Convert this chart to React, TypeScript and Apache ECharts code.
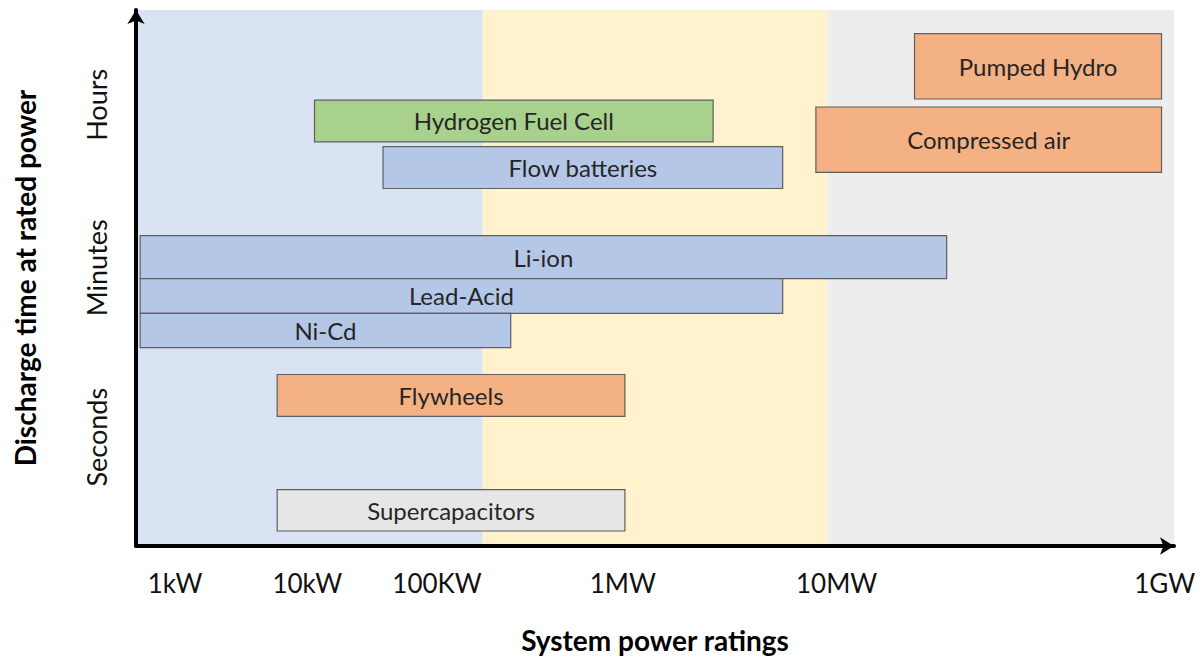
import React, { useEffect, useRef } from "react";
import * as echarts from "echarts";

// Storage technologies (bars)
const techNames = [
  "Pumped Hydro",
  "Compressed air",
  "Hydrogen Fuel Cell",
  "Flow batteries",
  "Li-ion",
  "Lead-Acid",
  "Ni-Cd",
  "Flywheels",
  "Supercapacitors",
];
// Power rating extent, in position units along the (non-uniform) power axis, 0..100
const powerStart = [75.0, 65.5, 17.2, 23.8, 0.4, 0.4, 0.4, 13.6, 13.6];
const powerEnd = [98.8, 98.8, 55.6, 62.3, 78.1, 62.3, 36.1, 47.1, 47.1];
// Discharge time extent, in position units along the time axis, 0..100
const timeLow = [83.4, 69.7, 75.4, 66.7, 49.9, 43.4, 37.0, 24.2, 2.8];
const timeHigh = [95.6, 81.9, 83.2, 74.5, 57.9, 49.9, 43.4, 32.0, 10.5];
const techKind = [
  "mechanical",
  "mechanical",
  "hydrogen",
  "battery",
  "battery",
  "battery",
  "battery",
  "mechanical",
  "capacitor",
];

// Background bands along the power axis
const bandStart = [0, 33.4, 66.6];
const bandEnd = [33.4, 66.6, 100];

// Tick labels
const powerTickPos = [3.76, 16.5, 29.0, 46.9, 67.5, 99.1];
const powerTickLabels = ["1kW", "10kW", "100KW", "1MW", "10MW", "1GW"];
const timeTickPos = [20.3, 51.9, 82.3];
const timeTickLabels = ["Seconds", "Minutes", "Hours"];

const kindColors: Record<string, string> = {
  mechanical: "#F4B183",
  hydrogen: "#A9D18E",
  battery: "#B4C7E7",
  capacitor: "#E7E6E6",
};
const bandColors = ["#DAE3F3", "#FFF2CC", "#EDEDED"];

const FONT = "Lato, 'Open Sans', sans-serif";

export default function App() {
  const ref = useRef<HTMLDivElement>(null);

  useEffect(() => {
    if (!ref.current) return;
    const chart = echarts.init(ref.current, null, { renderer: "svg" });

    const barData = techNames.map((n, i) => [powerStart[i], powerEnd[i], timeLow[i], timeHigh[i]]);
    const bandData = bandStart.map((s, i) => [s, bandEnd[i], 0, 100]);

    const labelFor = (positions: number[], labels: string[]) => (v: number) => {
      const i = positions.findIndex((p) => Math.abs(p - v) < 0.001);
      return i >= 0 ? labels[i] : "";
    };

    chart.setOption({
      animation: false,
      backgroundColor: "#ffffff",
      textStyle: { fontFamily: FONT },
      grid: { left: 136, top: 10, width: 1038, height: 541, containLabel: false },
      xAxis: {
        type: "value",
        min: 0,
        max: 100,
        z: 10,
        splitLine: { show: false },
        axisTick: { show: false },
        axisLine: {
          show: true,
          onZero: false,
          symbol: ["none", "arrow"],
          symbolSize: [13, 14],
          lineStyle: { color: "#000", width: 4 },
        },
        axisLabel: {
          customValues: powerTickPos,
          formatter: labelFor(powerTickPos, powerTickLabels),
          fontSize: 26,
          fontFamily: FONT,
          color: "#111",
          margin: 24,
        },
        name: "System power ratings",
        nameLocation: "middle",
        nameGap: 80,
        nameTextStyle: { fontSize: 28, fontWeight: "bold", color: "#000", fontFamily: FONT },
      },
      yAxis: {
        type: "value",
        min: 0,
        max: 100,
        z: 10,
        splitLine: { show: false },
        axisTick: { show: false },
        axisLine: {
          show: true,
          onZero: false,
          symbol: ["none", "arrow"],
          symbolSize: [13, 14],
          lineStyle: { color: "#000", width: 4 },
        },
        axisLabel: {
          customValues: timeTickPos,
          formatter: labelFor(timeTickPos, timeTickLabels),
          rotate: 90,
          fontSize: 27,
          fontFamily: FONT,
          color: "#111",
          margin: 26,
        },
        name: "Discharge time at rated power",
        nameLocation: "middle",
        nameGap: 97,
        nameTextStyle: { fontSize: 28, fontWeight: "bold", color: "#000", fontFamily: FONT },
      },
      series: [
        {
          type: "custom",
          name: "bands",
          z: 1,
          silent: true,
          data: bandData,
          renderItem: (params: any, api: any) => {
            const p0 = api.coord([api.value(0), api.value(3)]);
            const p1 = api.coord([api.value(1), api.value(2)]);
            return {
              type: "rect",
              shape: { x: p0[0], y: p0[1], width: p1[0] - p0[0], height: p1[1] - p0[1] },
              style: { fill: bandColors[params.dataIndex] },
            };
          },
        },
        {
          type: "custom",
          name: "technologies",
          z: 3,
          data: barData,
          renderItem: (params: any, api: any) => {
            const i = params.dataIndex;
            const p0 = api.coord([api.value(0), api.value(3)]);
            const p1 = api.coord([api.value(1), api.value(2)]);
            return {
              type: "group",
              children: [
                {
                  type: "rect",
                  shape: { x: p0[0], y: p0[1], width: p1[0] - p0[0], height: p1[1] - p0[1] },
                  style: { fill: kindColors[techKind[i]], stroke: "#5f5f5f", lineWidth: 1.2 },
                },
                {
                  type: "text",
                  style: {
                    text: techNames[i],
                    x: (p0[0] + p1[0]) / 2,
                    y: (p0[1] + p1[1]) / 2,
                    align: "center",
                    verticalAlign: "middle",
                    fontSize: 24,
                    fontFamily: FONT,
                    fill: "#262626",
                  },
                },
              ],
            };
          },
        },
      ],
    });

    return () => chart.dispose();
  }, []);

  return <div ref={ref} style={{ position: "fixed", left: 0, top: 0, width: 1202, height: 659 }} />;
}
